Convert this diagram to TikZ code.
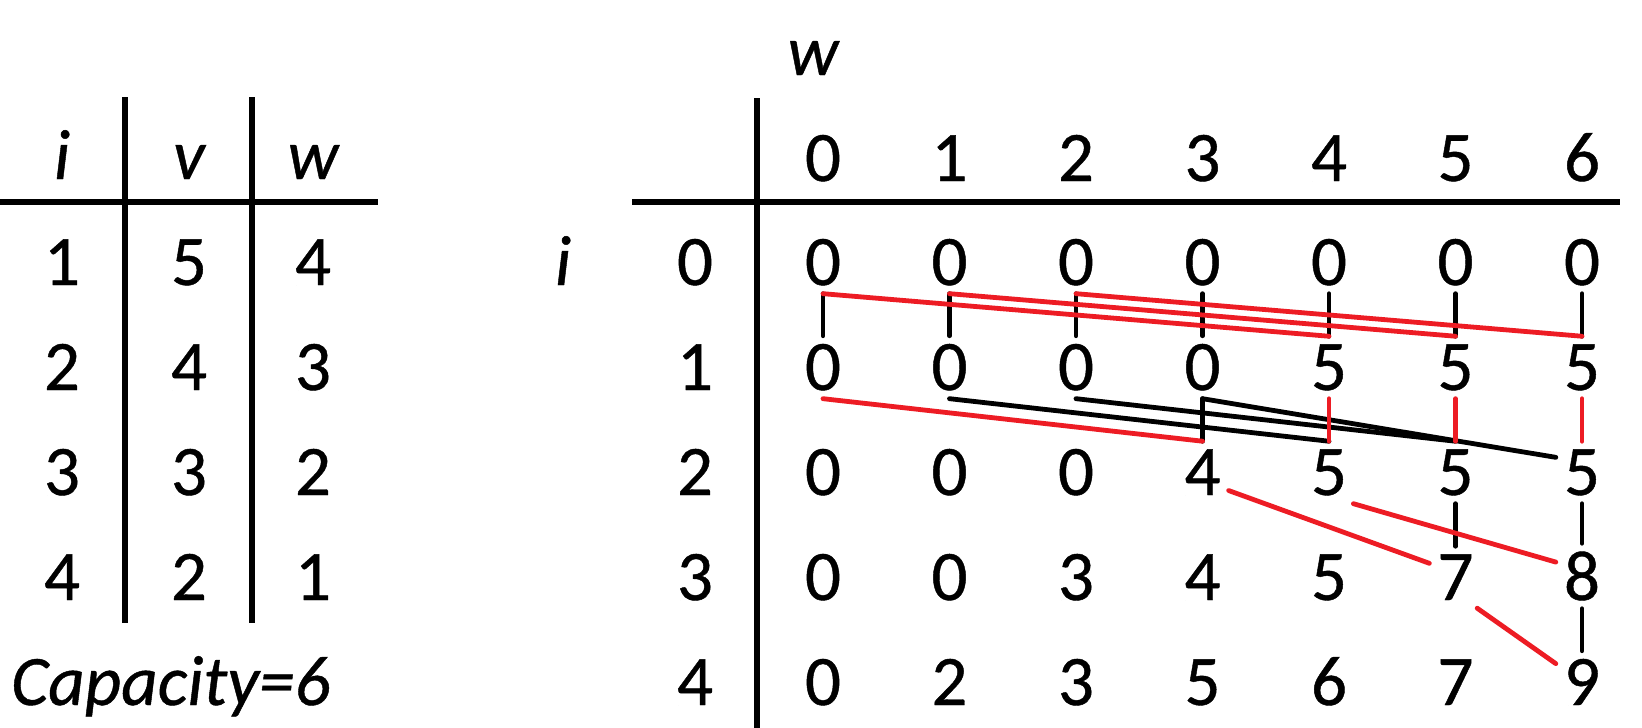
\documentclass[tikz,border=0pt]{standalone}
\usepackage{fontspec}
\setmainfont{Carlito}[FakeBold=0.6]
\definecolor{redc}{RGB}{237,28,36}
\begin{document}
\begin{tikzpicture}[x=1pt,y=-1pt,
  every node/.style={font=\fontsize{71}{80}\selectfont, inner sep=8pt, text=black},
  cell/.style={anchor=base},
  hdr/.style={anchor=base, font=\fontsize{71}{80}\selectfont\itshape},
  tablerule/.style={line width=5.5pt, black},
  blk/.style={line width=4.8pt, black, line cap=round},
  redl/.style={line width=4.8pt, redc, line cap=round}]
\fill[white] (0,0) rectangle (1642,728);
\useasboundingbox (0,0) rectangle (1642,728);

% ---------- left table ----------
\node[hdr] (li) at (62,179) {i};
\node[hdr] (lv) at (189,179) {v};
\node[hdr] (lw) at (313,179) {w};
\foreach \r/\y/\a/\b/\c in {1/285/1/5/4,2/390/2/4/3,3/495/3/3/2,4/600/4/2/1}{
  \node[cell] (li\r) at (62,\y) {\a};
  \node[cell] (lv\r) at (189,\y) {\b};
  \node[cell] (lw\r) at (313,\y) {\c};
}
\node[hdr, anchor=base west] (cap) at (3,705) {Capacity=6};
\draw[tablerule] (0,202) -- (378,202);
\draw[tablerule] (125,97) -- (125,623);
\draw[tablerule] (252,97) -- (252,623);

% ---------- right table ----------
\node[hdr] (wlab) at (813,75) {w};
\node[hdr] (ilab) at (563,285) {i};
\foreach \c in {0,...,6}{
  \node[cell] (h\c) at ({823+126.5*\c},181) {\c};
}
\foreach \r/\y in {0/285,1/390,2/495,3/600,4/705}{
  \node[cell] (r\r) at (695,\y) {\r};
}
\foreach \r/\y/\vals in {0/285/{0,0,0,0,0,0,0},1/390/{0,0,0,0,5,5,5},2/495/{0,0,0,4,5,5,5},3/600/{0,0,3,4,5,7,8},4/705/{0,2,3,5,6,7,9}}{
  \foreach \v [count=\c from 0] in \vals {
    \node[cell] (n\r\c) at ({823+126.5*\c},\y) {\v};
  }
}
\draw[tablerule] (632,202) -- (1620,202);
\draw[tablerule] (757,98) -- (757,728);

% ---------- connectors: row 0 -> row 1 ----------
\foreach \c in {0,...,6}{
  \draw[blk] (n0\c.south) -- (n1\c.north);
}
\draw[redl] (n00.south) -- (n14.north);
\draw[redl] (n01.south) -- (n15.north);
\draw[redl] (n02.south) -- (n16.north);

% ---------- row 1 -> row 2 ----------
\draw[blk] (n13.south) -- (n23.north);
\draw[blk] (n11.south) -- (n24.north);
\draw[blk] (n12.south) -- (n25.north);
\draw[blk] (n13.south) -- (n26.150);
\draw[redl] (n10.south) -- (n23.north);
\draw[redl] (n14.south) -- (n24.north);
\draw[redl] (n15.south) -- (n25.north);
\draw[redl] (n16.south) -- (n26.north);

% ---------- row 2 -> row 3 ----------
\draw[blk] (n25.south) -- (n35.north);
\draw[blk] (n26.south) -- (n36.north);
\draw[redl] (n23.-35) -- (n35.152);
\draw[redl] (n24.-52) -- (n36.152);

% ---------- row 3 -> row 4 ----------
\draw[blk] (n36.south) -- (n46.north);
\draw[redl] (n35.-55) -- (n46.145);
\end{tikzpicture}
\end{document}
